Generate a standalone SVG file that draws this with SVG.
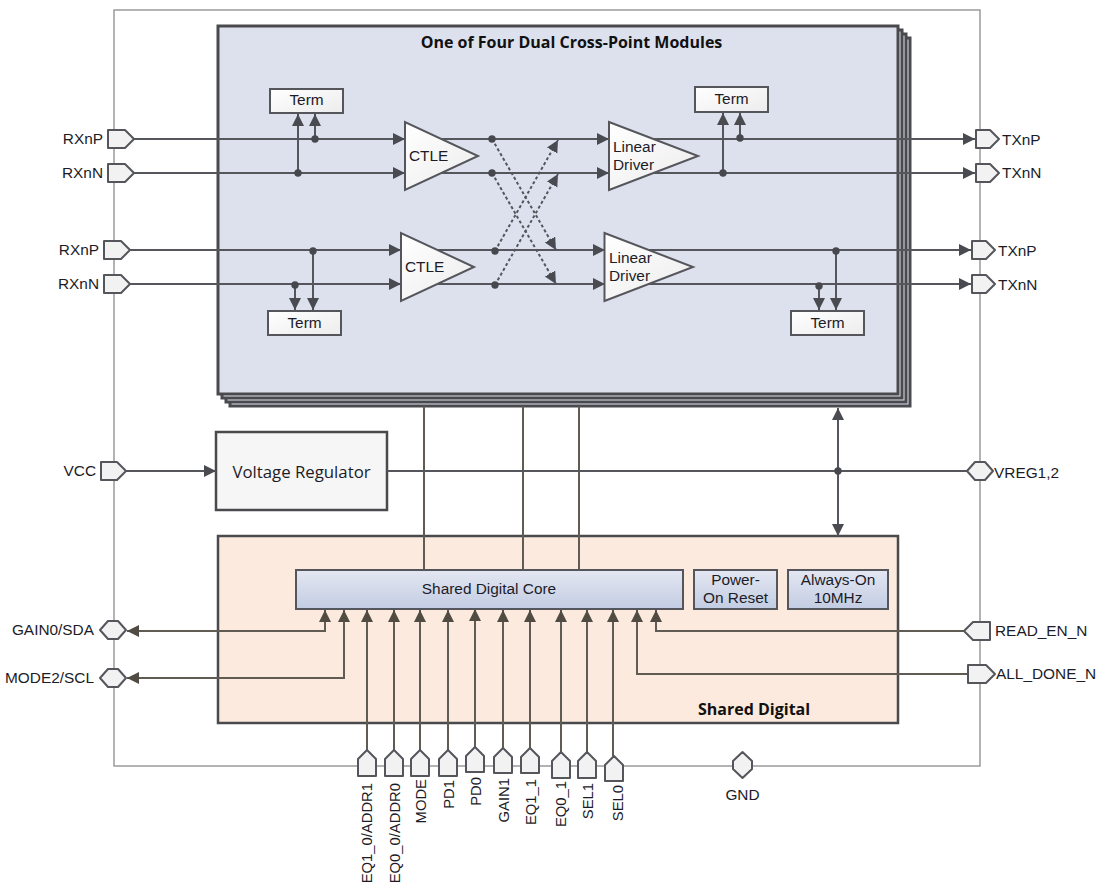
<svg xmlns="http://www.w3.org/2000/svg" width="1100" height="891" viewBox="0 0 1100 891">
<style>
text{font-family:"Liberation Sans",Arial,sans-serif;font-size:15.4px;fill:#1c1c28}
.b{font-family:"Open Sans","Liberation Sans",sans-serif;font-weight:700;font-size:16px;fill:#111}
.m{text-anchor:middle}
.e{text-anchor:end}
.r{text-anchor:end;font-size:14.8px}
.w{fill:none;stroke:#55565c;stroke-width:2}
.d{fill:none;stroke:#55565c;stroke-width:2;stroke-dasharray:3 2.5}
.p{fill:#f2f2f3;stroke:#55565c;stroke-width:2;stroke-linejoin:round}
.t{fill:url(#gw);stroke:#55565c;stroke-width:2}
.s{fill:#dde1ee;stroke:#4a4a4e;stroke-width:3}
.k{fill:none;stroke:#605c54;stroke-width:2}
.dot{fill:#47484e}
</style>
<defs>
<linearGradient id="gw" x1="0" y1="0" x2="1" y2="1"><stop offset="0" stop-color="#fff"/><stop offset="1" stop-color="#ececec"/></linearGradient>
<linearGradient id="gc" x1="0" y1="0" x2="0" y2="1"><stop offset="0" stop-color="#e4e7f2"/><stop offset="1" stop-color="#c2cce2"/></linearGradient>
<marker id="a" markerUnits="userSpaceOnUse" markerWidth="14" markerHeight="14" refX="12" refY="6" orient="auto-start-reverse"><path d="M0 0L12 6L0 12Z" fill="#4a4b51"/></marker>
<marker id="bk" markerUnits="userSpaceOnUse" markerWidth="14" markerHeight="14" refX="12" refY="6" orient="auto-start-reverse"><path d="M0 0L12 6L0 12Z" fill="#504c44"/></marker>
</defs>
<rect id="chip-outline" x="114" y="10" width="866" height="756" fill="#fff" stroke="#9a9a9a" stroke-width="1.5"/>
<g id="modules">
<rect class="s" x="230" y="38" width="680" height="368"/>
<rect class="s" x="226" y="34" width="680" height="368"/>
<rect class="s" x="222" y="30" width="680" height="368"/>
<rect class="s" x="218" y="26" width="680" height="368"/>
<text class="b m" x="571.500" y="48">One of Four Dual Cross-Point Modules</text>
</g>
<g id="voltage-regulator"><rect x="216" y="432" width="171" height="78" fill="#f6f6f6" stroke="#4a4a4e" stroke-width="2.5"/><text class="m" x="301.500" y="478" style="font-family:'Open Sans','Liberation Sans',sans-serif;font-size:16.800px">Voltage Regulator</text></g>
<g id="shared-digital"><rect x="218" y="536" width="680" height="187" fill="#fbeadd" stroke="#4a4a4e" stroke-width="2.5"/><text class="b" x="698" y="715">Shared Digital</text></g>
<g id="connectors">
<path class="w" d="M134 139H405" marker-end="url(#a)"/>
<path class="w" d="M134 173H405" marker-end="url(#a)"/>
<path class="w" d="M130 250H401" marker-end="url(#a)"/>
<path class="w" d="M130 284H401" marker-end="url(#a)"/>
<path class="w" d="M298 173V114" marker-end="url(#a)"/>
<path class="w" d="M315 139V114" marker-end="url(#a)"/>
<path class="w" d="M313 251V310" marker-end="url(#a)"/>
<path class="w" d="M295 285V310" marker-end="url(#a)"/>
<path class="w" d="M430 139H609" marker-end="url(#a)"/>
<path class="w" d="M430 173H609" marker-end="url(#a)"/>
<path class="w" d="M426 250H605" marker-end="url(#a)"/>
<path class="w" d="M426 284H605" marker-end="url(#a)"/>
<path class="d" d="M492 139L556 250" marker-end="url(#a)"/>
<path class="d" d="M492 173L556 284" marker-end="url(#a)"/>
<path class="d" d="M495 251L558 140" marker-end="url(#a)"/>
<path class="d" d="M495 285L558 174" marker-end="url(#a)"/>
<path class="w" d="M640 139H975" marker-end="url(#a)"/>
<path class="w" d="M640 173H975" marker-end="url(#a)"/>
<path class="w" d="M636 250H971" marker-end="url(#a)"/>
<path class="w" d="M636 284H971" marker-end="url(#a)"/>
<path class="w" d="M723 173V113" marker-end="url(#a)"/>
<path class="w" d="M740 138V113" marker-end="url(#a)"/>
<path class="w" d="M836 250V310" marker-end="url(#a)"/>
<path class="w" d="M819 286V310" marker-end="url(#a)"/>
<path class="k" d="M424 406V570M523 406V570M579 406V570"/>
<path class="w" d="M126 471H216" marker-end="url(#a)"/>
<path class="w" d="M387 471H968"/>
<path class="w" d="M838 408V536" marker-start="url(#a)" marker-end="url(#a)"/>
<path class="k" d="M325 610V631H127" marker-start="url(#bk)" marker-end="url(#bk)"/>
<path class="k" d="M344 610V678H127" marker-start="url(#bk)" marker-end="url(#bk)"/>
<path class="k" d="M964 631H656V610" marker-end="url(#bk)"/>
<path class="k" d="M968 674H637V610" marker-end="url(#bk)"/>
<path class="k" d="M367 750V610" marker-end="url(#bk)"/>
<path class="k" d="M394 750V610" marker-end="url(#bk)"/>
<path class="k" d="M420 750V610" marker-end="url(#bk)"/>
<path class="k" d="M448 750V610" marker-end="url(#bk)"/>
<path class="k" d="M475 747V609" marker-end="url(#bk)"/>
<path class="k" d="M503 748V610" marker-end="url(#bk)"/>
<path class="k" d="M530 748V610" marker-end="url(#bk)"/>
<path class="k" d="M561 752V610" marker-end="url(#bk)"/>
<path class="k" d="M587 752V610" marker-end="url(#bk)"/>
<path class="k" d="M613 756V610" marker-end="url(#bk)"/>
<g class="dot"><circle cx="315" cy="139" r="3.7"/><circle cx="298" cy="173" r="3.7"/><circle cx="313" cy="251" r="3.7"/><circle cx="295" cy="285" r="3.7"/><circle cx="492" cy="139" r="3.7"/><circle cx="492" cy="173" r="3.7"/><circle cx="495" cy="251" r="3.7"/><circle cx="495" cy="285" r="3.7"/><circle cx="740" cy="138" r="3.7"/><circle cx="723" cy="173" r="3.7"/><circle cx="836" cy="251" r="3.7"/><circle cx="819" cy="286" r="3.7"/><circle cx="838" cy="471" r="3.7"/></g>
</g>
<g id="ctle-1"><path class="t" d="M405 122V190L478 156Z"/><text x="409" y="161">CTLE</text></g>
<g id="ctle-2"><path class="t" d="M401 233V301L474 267Z"/><text x="405" y="272">CTLE</text></g>
<g id="driver-1"><path class="t" d="M609 122V190L698 156Z"/><text x="613" y="152">Linear</text><text x="613" y="170">Driver</text></g>
<g id="driver-2"><path class="t" d="M604.500 233V301L693 267Z"/><text x="609" y="263">Linear</text><text x="609" y="281">Driver</text></g>
<g id="term-1"><rect class="t" x="270" y="89" width="73" height="24"/><text class="m" x="306.500" y="105">Term</text></g>
<g id="term-2"><rect class="t" x="268" y="311" width="73" height="24"/><text class="m" x="304.500" y="328">Term</text></g>
<g id="term-3"><rect class="t" x="695" y="87" width="73" height="25"/><text class="m" x="731.500" y="104">Term</text></g>
<g id="term-4"><rect class="t" x="791" y="311" width="73" height="24"/><text class="m" x="827.500" y="328">Term</text></g>
<g id="shared-digital-core"><rect x="296" y="570" width="387" height="39" fill="url(#gc)" stroke="#55565c" stroke-width="2"/><text class="m" x="489" y="594">Shared Digital Core</text></g>
<g id="power-on-reset"><rect x="694" y="570" width="83" height="39" fill="url(#gc)" stroke="#55565c" stroke-width="2"/><text class="m" x="735.500" y="585">Power-</text><text class="m" x="735.500" y="603">On Reset</text></g>
<g id="always-on"><rect x="788" y="570" width="100" height="39" fill="url(#gc)" stroke="#55565c" stroke-width="2"/><text class="m" x="838" y="585">Always-On</text><text class="m" x="838" y="603">10MHz</text></g>
<g id="pin-rx1p"><path class="p" d="M108 130H125L134 139L125 148H108Z"/><text class="e" x="103" y="144">RXnP</text></g>
<g id="pin-rx1n"><path class="p" d="M108 164H125L134 173L125 182H108Z"/><text class="e" x="103" y="178">RXnN</text></g>
<g id="pin-rx2p"><path class="p" d="M104 241H121L130 250L121 259H104Z"/><text class="e" x="99" y="255">RXnP</text></g>
<g id="pin-rx2n"><path class="p" d="M104 275H121L130 284L121 293H104Z"/><text class="e" x="99" y="289">RXnN</text></g>
<g id="pin-tx1p"><path class="p" d="M976 130H990L999 139L990 148H976Z"/><text x="1002" y="145">TXnP</text></g>
<g id="pin-tx1n"><path class="p" d="M976 164H990L999 173L990 182H976Z"/><text x="1002" y="178">TXnN</text></g>
<g id="pin-tx2p"><path class="p" d="M972 241H986L995 250L986 259H972Z"/><text x="998" y="256">TXnP</text></g>
<g id="pin-tx2n"><path class="p" d="M972 275H986L995 284L986 293H972Z"/><text x="998" y="290">TXnN</text></g>
<g id="pin-vcc"><path class="p" d="M101 462H117L126 471L117 480H101Z"/><text class="e" x="96" y="476">VCC</text></g>
<g id="pin-vreg"><path class="p" d="M967 471L975 462H985L993 471L985 480H975Z"/><text x="994" y="478">VREG1,2</text></g>
<g id="pin-gain0"><path class="p" d="M100 630L108 621H118L126 630L118 639H108Z"/><text class="e" x="94" y="635">GAIN0/SDA</text></g>
<g id="pin-mode2"><path class="p" d="M100 678L108 669H118L126 678L118 687H108Z"/><text class="e" x="94" y="683">MODE2/SCL</text></g>
<g id="pin-read-en"><path class="p" d="M964 631L973 622H990V640H973Z"/><text x="995" y="636">READ_EN_N</text></g>
<g id="pin-all-done"><path class="p" d="M968 665H986L995 674L986 683H968Z"/><text x="996" y="679">ALL_DONE_N</text></g>
<g id="pin-gnd"><path class="p" d="M742.500 752L752 761V769L742.500 778L733 769V761Z"/><text class="m" x="742.500" y="800">GND</text></g>
<g id="pin-eq1-0"><path class="p" d="M358 776V759L367 750L376 759V776Z"/><text class="r" transform="translate(371.500 783) rotate(-90)">EQ1_0/ADDR1</text></g>
<g id="pin-eq0-0"><path class="p" d="M385 776V759L394 750L403 759V776Z"/><text class="r" transform="translate(399.500 783) rotate(-90)">EQ0_0/ADDR0</text></g>
<g id="pin-mode"><path class="p" d="M411 776V759L420 750L429 759V776Z"/><text class="r" transform="translate(425.500 779) rotate(-90)">MODE</text></g>
<g id="pin-pd1"><path class="p" d="M439 776V759L448 750L457 759V776Z"/><text class="r" transform="translate(453.500 780) rotate(-90)">PD1</text></g>
<g id="pin-pd0"><path class="p" d="M466 772V756L475 747L484 756V772Z"/><text class="r" transform="translate(480.500 777) rotate(-90)">PD0</text></g>
<g id="pin-gain1"><path class="p" d="M494 773V757L503 748L512 757V773Z"/><text class="r" transform="translate(508.500 778) rotate(-90)">GAIN1</text></g>
<g id="pin-eq1-1"><path class="p" d="M521 773V757L530 748L539 757V773Z"/><text class="r" transform="translate(535.500 779) rotate(-90)">EQ1_1</text></g>
<g id="pin-eq0-1"><path class="p" d="M552 778V761L561 752L570 761V778Z"/><text class="r" transform="translate(565.500 781) rotate(-90)">EQ0_1</text></g>
<g id="pin-sel1"><path class="p" d="M578 778V761L587 752L596 761V778Z"/><text class="r" transform="translate(592.500 783) rotate(-90)">SEL1</text></g>
<g id="pin-sel0"><path class="p" d="M605 781V765L614 756L623 765V781Z"/><text class="r" transform="translate(622.500 785) rotate(-90)">SEL0</text></g>
</svg>
